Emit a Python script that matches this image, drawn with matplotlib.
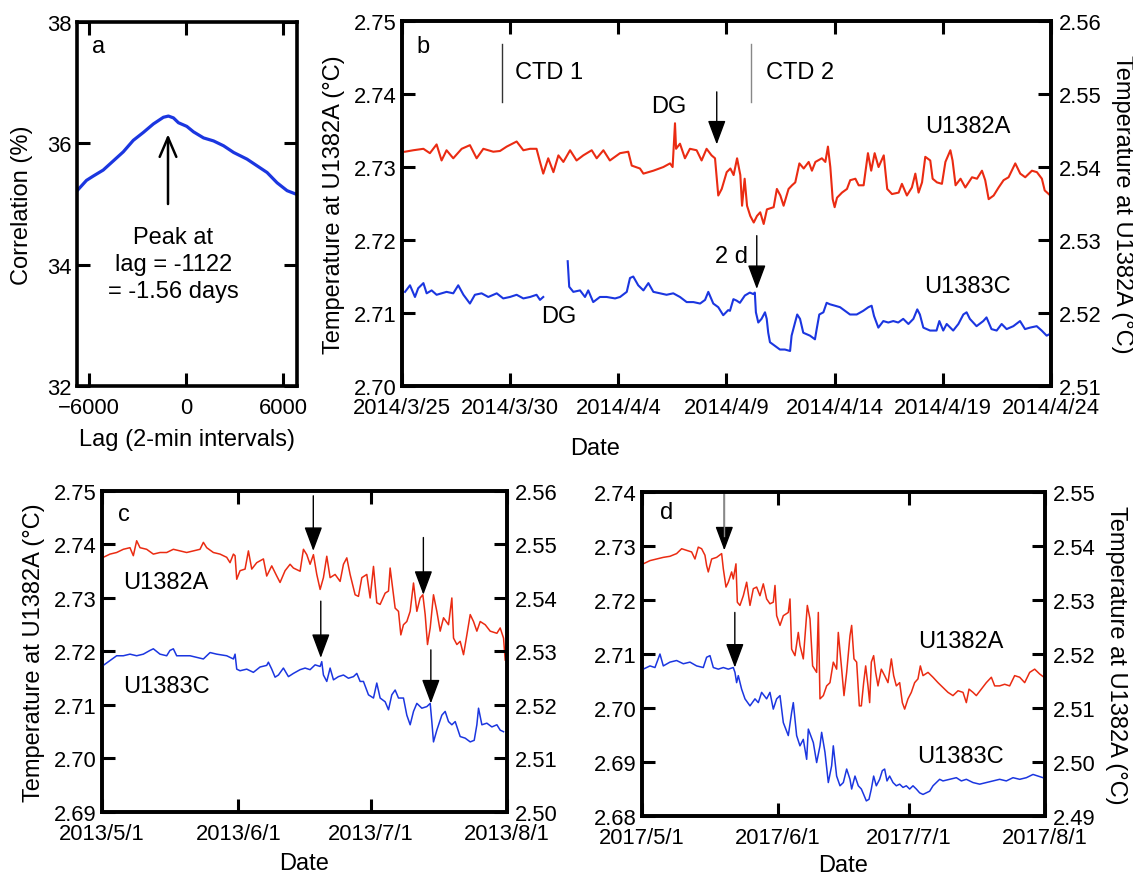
import numpy as np
import matplotlib
matplotlib.use('Agg')
import matplotlib.pyplot as plt
import matplotlib.dates as mdates
from matplotlib.ticker import FormatStrFormatter
from datetime import datetime

plt.rcParams['font.family'] = ['Liberation Sans', 'DejaVu Sans']

RED = '#EA2B12'
BLUE = '#1B36E0'
TICK_FS = 15.8
TEXT_FS = 17
YLABEL = 'Temperature at U1382A (°C)'

# ---- panel a: cross correlation ----
lag = [-6745, -6166, -5752, -5131, -4510, -3890, -3269, -2648, -2028, -1407,
       -1097, -786, -476, 41, 455, 1076, 1697, 2317, 2938, 3766, 4386, 5007,
       5628, 6248, 6828]
corr = [35.22, 35.39, 35.46, 35.56, 35.71, 35.86, 36.05, 36.18, 36.32, 36.43,
        36.45, 36.42, 36.34, 36.28, 36.19, 36.09, 36.04, 35.96, 35.85, 35.74,
        35.63, 35.52, 35.35, 35.22, 35.16]
peak_lag = -1122

# ---- panel b: 2014 (days after 2014/3/25) ----
b_ticks = ['2014/3/25', '2014/3/30', '2014/4/4', '2014/4/9', '2014/4/14',
           '2014/4/19', '2014/4/24']
b_red_day = [0.14, 0.52, 0.99, 1.29, 1.60, 1.83, 2.06, 2.37, 2.76, 3.14, 3.45,
             3.76, 4.22, 4.53, 4.84, 5.30, 5.61, 5.92, 6.22, 6.38, 6.53, 6.76,
             7.00, 7.23, 7.46, 7.77, 8.07, 8.38, 8.77, 9.00, 9.31, 9.61, 10.08,
             10.46, 10.62, 11.00, 11.16, 11.62, 12.08, 12.39, 12.51, 12.62,
             12.67, 12.85, 13.08, 13.31, 13.62, 13.85, 14.08, 14.31, 14.47,
             14.62, 14.78, 15.01, 15.18, 15.33, 15.49, 15.64, 15.72, 15.84,
             15.95, 16.10, 16.26, 16.41, 16.56, 16.72, 16.87, 17.18, 17.33,
             17.49, 17.64, 17.87, 18.03, 18.18, 18.37, 18.57, 18.80, 18.95,
             19.11, 19.41, 19.57, 19.69, 19.80, 19.91, 20.00, 20.11, 20.34,
             20.57, 20.72, 20.96, 21.11, 21.34, 21.54, 21.69, 21.85, 22.03,
             22.27, 22.43, 22.65, 22.96, 23.11, 23.34, 23.57, 23.73, 23.88,
             24.04, 24.19, 24.42, 24.53, 24.73, 24.96, 25.12, 25.35, 25.45,
             25.59, 25.82, 26.04, 26.35, 26.58, 26.81, 26.96, 27.12, 27.35,
             27.58, 27.81, 28.04, 28.35, 28.58, 28.81, 29.12, 29.35, 29.58,
             29.71, 29.97]
b_red_temp = [2.7321, 2.7323, 2.7325, 2.7319, 2.7331, 2.7309, 2.7323, 2.7312,
              2.7325, 2.7330, 2.7312, 2.7325, 2.7321, 2.7322, 2.7328, 2.7335,
              2.7323, 2.7325, 2.7325, 2.7307, 2.7291, 2.7312, 2.7293, 2.7316,
              2.7307, 2.7323, 2.7309, 2.7316, 2.7323, 2.7312, 2.7323, 2.7309,
              2.7319, 2.7321, 2.7302, 2.7298, 2.7291, 2.7295, 2.7300, 2.7305,
              2.7300, 2.7360, 2.7325, 2.7332, 2.7312, 2.7325, 2.7323, 2.7309,
              2.7325, 2.7316, 2.7312, 2.7261, 2.7270, 2.7293, 2.7298, 2.7289,
              2.7312, 2.7289, 2.7247, 2.7284, 2.7247, 2.7233, 2.7224, 2.7233,
              2.7238, 2.7222, 2.7242, 2.7245, 2.7270, 2.7261, 2.7247, 2.7270,
              2.7275, 2.7279, 2.7305, 2.7298, 2.7307, 2.7295, 2.7307, 2.7312,
              2.7307, 2.7328, 2.7300, 2.7256, 2.7245, 2.7258, 2.7265, 2.7270,
              2.7282, 2.7284, 2.7275, 2.7275, 2.7319, 2.7295, 2.7319, 2.7300,
              2.7316, 2.7270, 2.7263, 2.7265, 2.7277, 2.7261, 2.7272, 2.7291,
              2.7265, 2.7279, 2.7314, 2.7309, 2.7284, 2.7279, 2.7277, 2.7307,
              2.7323, 2.7309, 2.7275, 2.7284, 2.7272, 2.7286, 2.7284, 2.7295,
              2.7282, 2.7256, 2.7261, 2.7272, 2.7282, 2.7286, 2.7305, 2.7291,
              2.7286, 2.7295, 2.7293, 2.7284, 2.7268, 2.7261]
# U1383C (right axis), record broken by a data gap (DG)
b_blue_day1 = [0.14, 0.37, 0.60, 0.75, 0.99, 1.14, 1.37, 1.60, 1.83, 2.06,
               2.37, 2.60, 2.84, 3.14, 3.37, 3.68, 3.99, 4.38, 4.68, 4.99,
               5.30, 5.61, 5.92, 6.22, 6.38, 6.53]
b_blue_temp1 = [2.5229, 2.5238, 2.5222, 2.5234, 2.5241, 2.5227, 2.5231,
                2.5225, 2.5227, 2.5229, 2.5227, 2.5238, 2.5225, 2.5213,
                2.5225, 2.5227, 2.5222, 2.5227, 2.5220, 2.5222, 2.5225,
                2.5220, 2.5222, 2.5225, 2.5218, 2.5222]
b_blue_day2 = [7.66, 7.73, 7.92, 8.23, 8.46, 8.61, 8.84, 9.15, 9.46, 9.85,
               10.08, 10.39, 10.54, 10.69, 10.92, 11.16, 11.39, 11.62, 11.93,
               12.23, 12.54, 12.85, 13.16, 13.47, 13.78, 14.01, 14.16, 14.39,
               14.62, 14.85, 15.08, 15.16, 15.32, 15.47, 15.62, 15.85, 16.08,
               16.24, 16.31, 16.36, 16.47, 16.62, 16.78, 16.86, 16.93, 17.01,
               17.24, 17.47, 17.70, 17.94, 18.01, 18.17, 18.27, 18.40, 18.55,
               18.86, 19.09, 19.17, 19.29, 19.48, 19.63, 19.78, 20.02, 20.25,
               20.48, 20.71, 21.02, 21.32, 21.56, 21.71, 21.82, 22.02, 22.25,
               22.48, 22.71, 22.94, 23.17, 23.41, 23.64, 23.82, 23.94, 24.10,
               24.41, 24.71, 24.84, 25.02, 25.18, 25.48, 25.72, 25.95, 26.10,
               26.25, 26.56, 26.87, 27.02, 27.25, 27.49, 27.72, 27.95, 28.26,
               28.57, 28.80, 29.03, 29.34, 29.57, 29.80, 29.93]
b_blue_temp2 = [2.5271, 2.5236, 2.5229, 2.5231, 2.5222, 2.5231, 2.5215,
                2.5222, 2.5222, 2.5220, 2.5222, 2.5229, 2.5248, 2.5250,
                2.5238, 2.5231, 2.5241, 2.5229, 2.5227, 2.5225, 2.5227,
                2.5222, 2.5215, 2.5215, 2.5213, 2.5218, 2.5229, 2.5213,
                2.5208, 2.5197, 2.5204, 2.5203, 2.5219, 2.5217, 2.5214,
                2.5224, 2.5228, 2.5226, 2.5228, 2.5201, 2.5187, 2.5192,
                2.5201, 2.5192, 2.5173, 2.5160, 2.5155, 2.5150, 2.5150,
                2.5148, 2.5169, 2.5187, 2.5198, 2.5192, 2.5173, 2.5169,
                2.5164, 2.5178, 2.5198, 2.5201, 2.5214, 2.5212, 2.5210,
                2.5208, 2.5203, 2.5198, 2.5198, 2.5203, 2.5208, 2.5210,
                2.5196, 2.5180, 2.5189, 2.5187, 2.5189, 2.5187, 2.5192,
                2.5185, 2.5192, 2.5205, 2.5198, 2.5180, 2.5176, 2.5176,
                2.5189, 2.5176, 2.5185, 2.5176, 2.5185, 2.5198, 2.5201,
                2.5192, 2.5182, 2.5189, 2.5194, 2.5178, 2.5176, 2.5185,
                2.5178, 2.5182, 2.5189, 2.5178, 2.5180, 2.5182, 2.5176,
                2.5169, 2.5171]

# ---- panel c: 2013 (days after 2013/5/1) ----
c_ticks = ['2013/5/1', '2013/6/1', '2013/7/1', '2013/8/1']
c_red_day = [0.30, 1.82, 3.33, 4.85, 6.36, 7.12, 7.88, 8.64, 10.15, 11.67,
             13.18, 14.70, 16.21, 17.73, 19.24, 20.76, 22.27, 23.03, 23.79,
             25.30, 26.82, 28.33, 29.09, 29.85, 30.23, 30.61, 31.36, 32.50,
             33.26, 34.02, 35.15, 36.67, 37.42, 38.56, 39.70, 40.45, 41.59,
             42.73, 43.48, 45.00, 45.76, 46.52, 47.27, 48.03, 48.79, 49.55,
             50.30, 51.06, 51.82, 52.95, 54.09, 54.85, 55.61, 56.36, 57.50,
             58.26, 59.02, 60.15, 60.91, 61.67, 62.42, 63.18, 64.32, 65.08,
             65.45, 66.21, 66.59, 67.35, 67.88, 68.48, 69.24, 70.00, 70.76,
             71.52, 72.27, 72.88, 73.41, 73.94, 74.55, 75.30, 76.06, 76.82,
             77.58, 78.71, 79.47, 79.85, 80.61, 81.36, 82.12, 82.88, 83.64,
             84.39, 85.15, 85.91, 87.05, 88.18, 89.70, 90.45, 91.21, 91.59]
c_red_temp = [2.7376, 2.7382, 2.7385, 2.7391, 2.7394, 2.7379, 2.7407, 2.7394,
              2.7391, 2.7382, 2.7385, 2.7385, 2.7391, 2.7388, 2.7385, 2.7388,
              2.7391, 2.7404, 2.7394, 2.7385, 2.7382, 2.7376, 2.7366, 2.7382,
              2.7379, 2.7335, 2.7351, 2.7354, 2.7388, 2.7354, 2.7366, 2.7373,
              2.7341, 2.7360, 2.7341, 2.7329, 2.7351, 2.7363, 2.7356, 2.7350,
              2.7391, 2.7381, 2.7363, 2.7381, 2.7344, 2.7316, 2.7338, 2.7378,
              2.7338, 2.7344, 2.7331, 2.7363, 2.7375, 2.7344, 2.7306, 2.7303,
              2.7338, 2.7344, 2.7300, 2.7359, 2.7291, 2.7288, 2.7309, 2.7313,
              2.7356, 2.7306, 2.7281, 2.7275, 2.7231, 2.7250, 2.7256, 2.7275,
              2.7328, 2.7275, 2.7300, 2.7306, 2.7269, 2.7213, 2.7244, 2.7306,
              2.7275, 2.7238, 2.7263, 2.7250, 2.7300, 2.7225, 2.7213, 2.7219,
              2.7194, 2.7231, 2.7269, 2.7256, 2.7238, 2.7256, 2.7250, 2.7238,
              2.7234, 2.7244, 2.7225, 2.7184]
c_blue_day = [0.30, 1.82, 3.33, 4.85, 6.36, 7.88, 9.39, 10.91, 11.67, 13.18,
              14.70, 15.45, 16.21, 16.97, 18.48, 20.00, 21.52, 23.03, 24.55,
              26.06, 28.33, 29.85, 30.23, 30.61, 31.36, 32.88, 34.39, 35.91,
              37.42, 37.80, 38.56, 39.32, 40.08, 41.21, 42.35, 43.48, 45.00,
              46.14, 47.27, 48.41, 49.55, 49.92, 50.30, 51.06, 51.82, 52.58,
              53.71, 54.85, 55.98, 57.12, 57.88, 58.64, 59.39, 60.53, 61.67,
              62.42, 63.18, 64.32, 65.08, 65.83, 66.59, 67.35, 68.48, 69.24,
              70.00, 70.76, 71.52, 72.65, 73.79, 74.55, 74.92, 75.30, 76.06,
              77.20, 77.95, 78.71, 79.47, 80.23, 81.36, 82.50, 83.64, 84.55,
              85.15, 85.53, 86.29, 87.42, 88.56, 89.70, 90.45, 91.21]
c_blue_temp = [2.5274, 2.5283, 2.5292, 2.5292, 2.5295, 2.5292, 2.5295, 2.5302,
               2.5305, 2.5295, 2.5292, 2.5302, 2.5305, 2.5292, 2.5292, 2.5292,
               2.5289, 2.5286, 2.5298, 2.5295, 2.5292, 2.5286, 2.5295, 2.5267,
               2.5264, 2.5267, 2.5261, 2.5271, 2.5274, 2.5280, 2.5267, 2.5252,
               2.5256, 2.5269, 2.5253, 2.5259, 2.5266, 2.5269, 2.5266, 2.5275,
               2.5272, 2.5281, 2.5256, 2.5244, 2.5269, 2.5247, 2.5253, 2.5256,
               2.5250, 2.5253, 2.5259, 2.5244, 2.5244, 2.5219, 2.5213, 2.5241,
               2.5213, 2.5206, 2.5191, 2.5219, 2.5228, 2.5213, 2.5213, 2.5181,
               2.5163, 2.5188, 2.5203, 2.5194, 2.5197, 2.5203, 2.5169, 2.5131,
               2.5153, 2.5181, 2.5188, 2.5169, 2.5163, 2.5169, 2.5141, 2.5138,
               2.5131, 2.5134, 2.5163, 2.5194, 2.5163, 2.5166, 2.5159, 2.5163,
               2.5153, 2.5150]

# ---- panel d: 2017 (days after 2017/5/1) ----
d_ticks = ['2017/5/1', '2017/6/1', '2017/7/1', '2017/8/1']
d_red_day = [0.30, 1.83, 3.35, 4.87, 6.39, 7.91, 9.06, 10.20, 11.34, 12.10,
             12.86, 13.62, 14.38, 14.76, 15.14, 15.91, 17.05, 18.19, 18.57,
             19.18, 19.71, 20.47, 20.85, 21.46, 21.77, 22.37, 23.14, 23.90,
             24.66, 25.42, 26.18, 26.94, 27.70, 28.46, 29.22, 29.98, 30.37,
             30.75, 31.51, 32.27, 33.41, 33.79, 34.17, 34.93, 35.69, 36.07,
             36.83, 37.75, 38.36, 38.96, 39.88, 40.26, 40.64, 41.40, 42.16,
             42.92, 43.68, 44.44, 44.82, 45.59, 46.12, 46.73, 47.49, 47.87,
             48.40, 49.01, 49.62, 50.08, 50.61, 51.07, 51.60, 51.98, 52.36,
             52.89, 53.35, 53.88, 54.64, 55.40, 56.16, 56.93, 57.46, 58.07,
             58.83, 59.44, 59.97, 60.73, 61.49, 62.25, 63.01, 63.55, 64.16,
             65.30, 66.44, 67.58, 68.72, 69.86, 71.00, 72.15, 73.29, 74.05,
             74.66, 75.57, 76.33, 77.47, 78.61, 79.76, 80.52, 81.66, 82.80,
             83.94, 85.08, 86.23, 87.37, 88.51, 89.65, 90.79, 91.78]
d_red_temp = [2.7267, 2.7273, 2.7276, 2.7279, 2.7281, 2.7286, 2.7295, 2.7292,
              2.7289, 2.7276, 2.7298, 2.7295, 2.7283, 2.7264, 2.7252, 2.7276,
              2.7279, 2.7286, 2.7258, 2.7224, 2.7233, 2.7252, 2.7239, 2.7267,
              2.7196, 2.7190, 2.7208, 2.7233, 2.7190, 2.7221, 2.7224, 2.7208,
              2.7230, 2.7202, 2.7193, 2.7196, 2.7227, 2.7171, 2.7153, 2.7171,
              2.7177, 2.7202, 2.7109, 2.7097, 2.7140, 2.7116, 2.7091, 2.7190,
              2.7165, 2.7078, 2.7066, 2.7177, 2.7017, 2.7023, 2.7041, 2.7047,
              2.7085, 2.7072, 2.7140, 2.7072, 2.7023, 2.7066, 2.7134, 2.7153,
              2.7091, 2.7085, 2.7004, 2.7004, 2.7047, 2.7078, 2.7041, 2.7010,
              2.7085, 2.7097, 2.7066, 2.7041, 2.7072, 2.7060, 2.7047, 2.7091,
              2.7060, 2.7041, 2.7047, 2.7010, 2.6998, 2.7017, 2.7029, 2.7047,
              2.7054, 2.7078, 2.7060, 2.7066, 2.7057, 2.7047, 2.7038, 2.7029,
              2.7023, 2.7032, 2.7029, 2.7010, 2.7035, 2.7029, 2.7023, 2.7035,
              2.7047, 2.7057, 2.7041, 2.7041, 2.7044, 2.7041, 2.7060, 2.7057,
              2.7047, 2.7066, 2.7072, 2.7063, 2.7057]
d_blue_day = [0.30, 1.83, 2.97, 4.11, 4.87, 6.39, 7.91, 9.44, 10.96, 12.48,
              14.00, 14.76, 15.53, 16.29, 17.43, 18.57, 19.71, 20.85, 21.23,
              21.61, 21.99, 22.75, 23.52, 24.66, 25.80, 26.56, 27.32, 28.46,
              29.22, 29.98, 30.75, 31.51, 32.27, 33.41, 34.17, 34.55, 35.31,
              36.07, 36.83, 37.60, 37.98, 39.12, 39.88, 40.64, 41.02, 41.78,
              42.54, 43.30, 43.68, 44.44, 45.21, 45.97, 46.73, 47.49, 47.87,
              48.63, 49.39, 50.08, 50.61, 51.22, 51.83, 52.36, 52.89, 53.50,
              54.26, 54.87, 55.40, 55.94, 56.54, 57.31, 58.07, 58.83, 59.59,
              60.35, 61.11, 61.87, 62.63, 63.39, 64.16, 64.92, 65.68, 66.44,
              67.20, 67.96, 68.72, 70.24, 71.77, 72.91, 74.05, 75.57, 77.09,
              78.61, 80.14, 81.66, 83.18, 84.70, 86.23, 87.75, 89.27, 90.41,
              91.55]
d_blue_temp = [2.5172, 2.5178, 2.5175, 2.5200, 2.5178, 2.5185, 2.5188, 2.5182,
               2.5185, 2.5178, 2.5175, 2.5194, 2.5197, 2.5175, 2.5172, 2.5175,
               2.5172, 2.5175, 2.5166, 2.5147, 2.5160, 2.5135, 2.5117, 2.5104,
               2.5117, 2.5110, 2.5129, 2.5117, 2.5129, 2.5098, 2.5117, 2.5123,
               2.5073, 2.5049, 2.5092, 2.5110, 2.5049, 2.5030, 2.5042, 2.5005,
               2.5061, 2.5036, 2.4999, 2.5030, 2.5055, 2.5018, 2.4962, 2.4993,
               2.5030, 2.4974, 2.4956, 2.4962, 2.4987, 2.4968, 2.4950, 2.4974,
               2.4956, 2.4950, 2.4940, 2.4928, 2.4931, 2.4950, 2.4974, 2.4956,
               2.4968, 2.4984, 2.4987, 2.4965, 2.4974, 2.4962, 2.4956, 2.4959,
               2.4953, 2.4956, 2.4950, 2.4956, 2.4950, 2.4943, 2.4940, 2.4943,
               2.4946, 2.4956, 2.4962, 2.4968, 2.4965, 2.4968, 2.4971, 2.4965,
               2.4968, 2.4962, 2.4959, 2.4962, 2.4965, 2.4968, 2.4965, 2.4971,
               2.4968, 2.4971, 2.4977, 2.4974, 2.4971]


def date_num(s):
    return mdates.date2num(datetime.strptime(s, '%Y/%m/%d'))


def style_axes(ax, **kw):
    ax.tick_params(direction='in', length=9.5, width=2.2, labelsize=TICK_FS,
                   pad=4, **kw)
    ax.tick_params(axis='x', pad=8)
    for sp in ax.spines.values():
        sp.set_linewidth(2.6)


def arrow(ax, x, y_from, y_to, color='black', lw=1.0):
    ax.annotate('', xy=(x, y_to), xytext=(x, y_from),
                arrowprops=dict(arrowstyle='-|>,head_length=0.75,head_width=0.28',
                                mutation_scale=20, color='black', lw=lw,
                                shrinkA=0, shrinkB=0))
    if color != 'black':
        ax.plot([x, x], [y_from, y_to - 0.25 * (y_to - y_from)], color=color,
                lw=lw, zorder=5)


def date_panel(ax, ticks, ylim, ylim_right, yticks, yticks_right):
    t0 = date_num(ticks[0])
    ax.set_xlim(t0, date_num(ticks[-1]))
    ax.set_xticks([date_num(t) for t in ticks])
    ax.set_xticklabels(ticks)
    ax.set_ylim(*ylim)
    ax.set_yticks(yticks)
    ax.yaxis.set_major_formatter(FormatStrFormatter('%.2f'))
    style_axes(ax, top=True, right=False)
    ax2 = ax.twinx()
    ax2.set_ylim(*ylim_right)
    ax2.set_yticks(yticks_right)
    ax2.yaxis.set_major_formatter(FormatStrFormatter('%.2f'))
    style_axes(ax2, left=False, right=True, top=False)
    ax2.tick_params(axis='y', pad=6)
    return t0, ax2


fig = plt.figure(figsize=(11.33, 8.79), dpi=100)

# ---------------- a ----------------
ax_a = fig.add_axes([0.068, 0.5597, 0.194, 0.4141])
ax_a.plot(lag, corr, color=BLUE, lw=2.3)
ax_a.set_xlim(-6750, 6850)
ax_a.set_ylim(32, 38)
ax_a.set_xticks([-6000, 0, 6000])
ax_a.set_yticks([32, 34, 36, 38])
style_axes(ax_a, top=True, right=True)
ax_a.set_xlabel('Lag (2-min intervals)', fontsize=TEXT_FS, labelpad=7)
ax_a.set_ylabel('Correlation (%)', fontsize=TEXT_FS, labelpad=10)
ax_a.annotate('', xy=(peak_lag, 36.15), xytext=(peak_lag, 35.0),
              arrowprops=dict(arrowstyle='->,head_length=0.7,head_width=0.3',
                              mutation_scale=20, color='black', lw=1.8,
                              shrinkA=0, shrinkB=0))
ax_a.text(-800, 34.01, 'Peak at\nlag = -1122\n= -1.56 days', fontsize=TEXT_FS,
          ha='center', va='center', linespacing=1.3)
ax_a.text(0.067, 0.935, 'a', transform=ax_a.transAxes, fontsize=TEXT_FS,
          ha='left', va='center')

# ---------------- b ----------------
ax_b = fig.add_axes([0.3548, 0.5597, 0.5728, 0.4152])
t0, ax_b2 = date_panel(ax_b, b_ticks, (2.70, 2.75), (2.51, 2.56),
                       np.arange(2.70, 2.7501, 0.01), np.arange(2.51, 2.5601, 0.01))
ax_b.plot(t0 + np.array(b_red_day), b_red_temp, color=RED, lw=1.5)
ax_b2.plot(t0 + np.array(b_blue_day1), b_blue_temp1, color=BLUE, lw=1.5)
ax_b2.plot(t0 + np.array(b_blue_day2), b_blue_temp2, color=BLUE, lw=1.5)
ax_b.plot([t0 + 4.64] * 2, [2.7468, 2.7389], color='#333333', lw=1.0)
ax_b.plot([t0 + 16.12] * 2, [2.7468, 2.7389], color='#888888', lw=1.0)
arrow(ax_b, t0 + 14.55, 2.7403, 2.7331)
arrow(ax_b, t0 + 16.4, 2.7206, 2.7133)
ax_b.set_ylabel(YLABEL, fontsize=TEXT_FS, labelpad=6)
ax_b2.set_ylabel(YLABEL, fontsize=TEXT_FS, rotation=270, labelpad=22)
ax_b.set_xlabel('Date', fontsize=TEXT_FS)
ax_b.xaxis.set_label_coords(0.297, -0.14)
for txt, x, y, ha in [('b', 0.023, 0.932, 'left'), ('CTD 1', 0.174, 0.860, 'left'),
                      ('CTD 2', 0.561, 0.860, 'left'), ('DG', 0.411, 0.767, 'center'),
                      ('U1382A', 0.872, 0.713, 'center'), ('U1383C', 0.872, 0.275, 'center'),
                      ('2 d', 0.507, 0.357, 'center'), ('DG', 0.242, 0.193, 'center')]:
    ax_b.text(x, y, txt, transform=ax_b.transAxes, fontsize=TEXT_FS, ha=ha, va='center')

# ---------------- c ----------------
ax_c = fig.add_axes([0.090, 0.0751, 0.3575, 0.3652])
t0, ax_c2 = date_panel(ax_c, c_ticks, (2.69, 2.75), (2.50, 2.56),
                       np.arange(2.69, 2.7501, 0.01), np.arange(2.50, 2.5601, 0.01))
ax_c.plot(t0 + np.array(c_red_day), c_red_temp, color=RED, lw=1.1)
ax_c2.plot(t0 + np.array(c_blue_day), c_blue_temp, color=BLUE, lw=1.1)
arrow(ax_c, t0 + 48.0, 2.7491, 2.7388)
arrow(ax_c, t0 + 73.0, 2.7413, 2.7306)
arrow(ax_c, t0 + 49.7, 2.7294, 2.7188)
arrow(ax_c, t0 + 74.7, 2.7203, 2.7103)
ax_c.set_ylabel(YLABEL, fontsize=TEXT_FS, labelpad=6)
ax_c.set_xlabel('Date', fontsize=TEXT_FS, labelpad=6)
ax_c.text(0.04, 0.928, 'c', transform=ax_c.transAxes, fontsize=TEXT_FS, va='center')
ax_c.text(0.052, 0.717, 'U1382A', transform=ax_c.transAxes, fontsize=TEXT_FS, va='center')
ax_c.text(0.052, 0.393, 'U1383C', transform=ax_c.transAxes, fontsize=TEXT_FS, va='center')

# ---------------- d ----------------
ax_d = fig.add_axes([0.5666, 0.0705, 0.3557, 0.3686])
t0, ax_d2 = date_panel(ax_d, d_ticks, (2.68, 2.74), (2.49, 2.55),
                       np.arange(2.68, 2.7401, 0.01), np.arange(2.49, 2.5501, 0.01))
ax_d.plot(t0 + np.array(d_red_day), d_red_temp, color=RED, lw=1.1)
ax_d2.plot(t0 + np.array(d_blue_day), d_blue_temp, color=BLUE, lw=1.1)
arrow(ax_d, t0 + 18.8, 2.7397, 2.7292, color='#888888')
arrow(ax_d, t0 + 21.2, 2.7177, 2.7075)
ax_d2.set_ylabel(YLABEL, fontsize=TEXT_FS, rotation=270, labelpad=22)
ax_d.set_xlabel('Date', fontsize=TEXT_FS, labelpad=4)
ax_d.text(0.045, 0.938, 'd', transform=ax_d.transAxes, fontsize=TEXT_FS, va='center')
ax_d.text(0.79, 0.541, 'U1382A', transform=ax_d.transAxes, fontsize=TEXT_FS,
          ha='center', va='center')
ax_d.text(0.79, 0.186, 'U1383C', transform=ax_d.transAxes, fontsize=TEXT_FS,
          ha='center', va='center')

fig.savefig('out.png', dpi=100)
